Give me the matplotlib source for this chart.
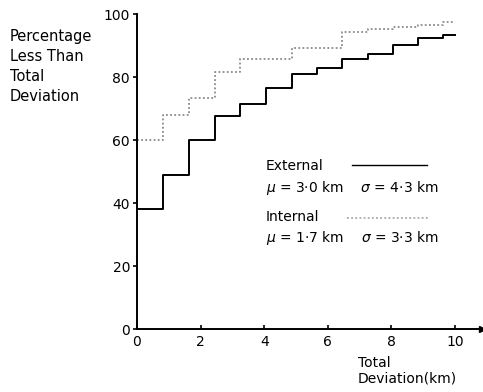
import numpy as np
import matplotlib.pyplot as plt

# step edges (km) and cumulative percentages
dev_km = [0, 0.83, 1.65, 2.45, 3.25, 4.05, 4.87, 5.67, 6.45, 7.25, 8.05, 8.85, 9.63, 10.0]
external_pct = [38, 49, 60, 67.5, 71.5, 76.5, 81, 83, 85.7, 87.3, 90.3, 92.5, 93.5, 93.5]
internal_pct = [60, 68, 73.5, 81.5, 85.8, 85.8, 89.2, 89.2, 94.3, 95.4, 95.8, 96.5, 97.6, 97.6]

xticks = [0, 2, 4, 6, 8, 10]
yticks = [0, 20, 40, 60, 80, 100]

plt.rcParams['font.family'] = 'DejaVu Sans'
fig = plt.figure(figsize=(4.83, 3.92), dpi=100)
ax = fig.add_axes([0.2836, 0.1607, 0.7144, 0.8033])

ax.step(dev_km, external_pct, where='post', color='black', lw=1.4)
ax.step(dev_km, internal_pct, where='post', color='#8a8a8a', lw=1.3,
        linestyle=(0, (1, 1.3)))

ax.set_xlim(0, 10.85)
ax.set_ylim(0, 100)
ax.spines['top'].set_visible(False)
ax.spines['right'].set_visible(False)
for s in ('left', 'bottom'):
    ax.spines[s].set_linewidth(1.4)
ax.set_xticks(xticks)
ax.set_yticks(yticks)
ax.tick_params(axis='x', direction='in', length=3, width=1.2, labelsize=10, pad=4)
ax.tick_params(axis='y', direction='out', length=3, width=1.2, labelsize=10, pad=2)
ax.plot(1, 0, '>', color='black', ms=5, transform=ax.transAxes, clip_on=False)


def fx(px):
    return px / 483


def fy(py):
    return 1 - py / 392


# y label, stacked at upper left
fig.text(fx(10), fy(29), 'Percentage\nLess Than\nTotal\nDeviation',
         fontsize=10.5, va='top', ha='left', linespacing=1.42)

fig.text(fx(358), fy(356), 'Total\nDeviation(km)', fontsize=10,
         va='top', ha='left', linespacing=1.15)

# hand-drawn legend
fig.text(fx(266), fy(166), 'External', fontsize=10, va='center')
fig.add_artist(plt.Line2D([fx(352), fx(427)], [fy(165), fy(165)],
                          color='black', lw=1.0))
fig.text(fx(266), fy(188), '$\\mu$ = 3·0 km    $\\sigma$ = 4·3 km', fontsize=10,
         va='center')
fig.text(fx(266), fy(217), 'Internal', fontsize=10, va='center')
fig.add_artist(plt.Line2D([fx(347), fx(428)], [fy(218), fy(218)],
                          color='#a8a8a8', lw=1.3, linestyle=(0, (1, 1.3))))
fig.text(fx(266), fy(238), '$\\mu$ = 1·7 km    $\\sigma$ = 3·3 km', fontsize=10,
         va='center')

fig.savefig('out.png', dpi=100)
